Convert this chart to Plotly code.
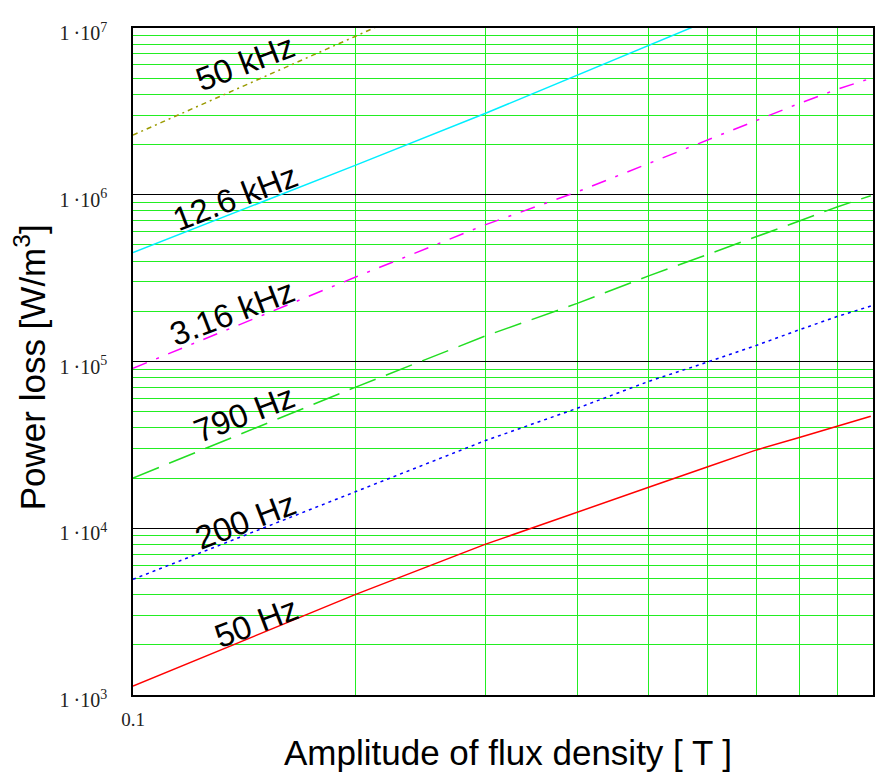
import plotly.graph_objects as go

# ---- data ----
B = [0.1, 0.2, 0.3, 0.4, 0.5, 0.6, 0.7, 0.8, 0.9, 1.0]
p_50Hz = [1.13e3, 4.0e3, 8.0e3, 1.24e4, 1.76e4, 2.33e4, 2.95e4, 3.5e4, 4.1e4, 4.7e4]
p_200Hz = [4.94e3, 1.65e4, 3.35e4, 5.24e4, 7.6e4, 9.9e4, 1.25e5, 1.55e5, 1.86e5, 2.15e5]
p_790Hz = [2.0e4, 7.0e4, 1.42e5, 2.23e5, 3.26e5, 4.37e5, 5.56e5, 6.96e5, 8.45e5, 9.87e5]
p_3160Hz = [9.1e4, 3.2e5, 6.6e5, 1.04e6, 1.54e6, 2.13e6, 2.8e6, 3.53e6, 4.29e6, 4.99e6]
B_12600 = [0.1, 0.2, 0.3, 0.4, 0.5, 0.6]
p_12600Hz = [4.5e5, 1.5e6, 3.07e6, 5.22e6, 7.9e6, 1.1e7]
B_50k = [0.1, 0.2, 0.3]
p_50kHz = [2.28e6, 8.9e6, 2.0e7]

labels = ["50 Hz", "200 Hz", "790 Hz", "3.16 kHz", "12.6 kHz", "50 kHz"]
y_tickvals = [1e3, 1e4, 1e5, 1e6, 1e7]
y_ticktext = ["1\u2009\u00b710<sup>3</sup>", "1\u2009\u00b710<sup>4</sup>", "1\u2009\u00b710<sup>5</sup>",
              "1\u2009\u00b710<sup>6</sup>", "1\u2009\u00b710<sup>7</sup>"]
x_tickvals = [0.1]
x_ticktext = ["0.1"]
x_minor = [0.2, 0.3, 0.4, 0.5, 0.6, 0.7, 0.8, 0.9]
y_minor = [m * 10 ** e for e in range(3, 7) for m in range(2, 10)]

# ---- figure ----
W, H = 875, 772
L, R, T, Bm = 133, 0, 28, 77

series = [
    (B, p_50Hz, "#ff0000", "solid"),
    (B, p_200Hz, "#0000ff", "3px,4px"),
    (B, p_790Hz, "#22dd22", "28px,11px"),
    (B, p_3160Hz, "#ff00ff", "15px,10px,3px,10px"),
    (B_12600, p_12600Hz, "#00eeff", "solid"),
    (B_50k, p_50kHz, "#9a9a00", "5px,4px,2px,4px"),
]

fig = go.Figure()
for (xs, ys, col, dash), name in zip(series, labels):
    fig.add_trace(go.Scatter(x=xs, y=ys, mode="lines", name=name,
                             line=dict(color=col, width=1.5, dash=dash),
                             showlegend=False))

grid_green = "#22ee22"
fig.update_xaxes(type="log", range=[-1, 0.003],
                 tickvals=x_tickvals, ticktext=x_ticktext,
                 tickfont=dict(family="Liberation Serif", size=19, color="#222"),
                 showgrid=False, ticks="", ticklabelstandoff=6,
                 showline=True, linecolor="black", linewidth=1.5, mirror=True,
                 zeroline=False,
                 minor=dict(tickvals=x_minor, showgrid=True, gridcolor=grid_green,
                            gridwidth=1, ticks=""))
fig.update_yaxes(type="log", range=[3, 7],
                 tickvals=y_tickvals, ticktext=y_ticktext,
                 tickfont=dict(family="Liberation Serif", size=20, color="#222"),
                 showgrid=True, gridcolor="black", gridwidth=1, ticks="",
                 ticklabelstandoff=20, ticklabelshift=5,
                 showline=True, linecolor="black", linewidth=1.5, mirror=True,
                 zeroline=False,
                 minor=dict(tickvals=y_minor, showgrid=True, gridcolor=grid_green,
                            gridwidth=1, ticks=""))

pw = W - L - R
ph = H - T - Bm


def px(x):
    return (x - L) / pw


def py(y):
    return (H - Bm - y) / ph


# curve labels (pixel centres from reference)
label_pos = [(256, 622), (246, 520), (245, 414), (232, 312), (235, 197), (246, 63)]
for text, (cx, cy) in zip(labels, label_pos):
    fig.add_annotation(x=px(cx), y=py(cy), xref="paper", yref="paper",
                       text=text, showarrow=False, textangle=-21,
                       xanchor="center", yanchor="middle",
                       font=dict(family="Liberation Sans", size=33, color="black"))

fig.add_annotation(x=px(509), y=py(752), xref="paper", yref="paper",
                   text="Amplitude of flux density [ T ]", showarrow=False,
                   xanchor="center", yanchor="middle",
                   font=dict(family="Liberation Sans", size=35, color="black"))
fig.add_annotation(x=px(30), y=py(367), xref="paper", yref="paper",
                   text="Power loss [W/m<sup>3</sup>]", showarrow=False,
                   textangle=-90, xanchor="center", yanchor="middle",
                   font=dict(family="Liberation Sans", size=35, color="black"))

fig.update_layout(width=W, height=H, margin=dict(l=L, r=R, t=T, b=Bm),
                  paper_bgcolor="white", plot_bgcolor="white")

fig.write_html("out.html")
